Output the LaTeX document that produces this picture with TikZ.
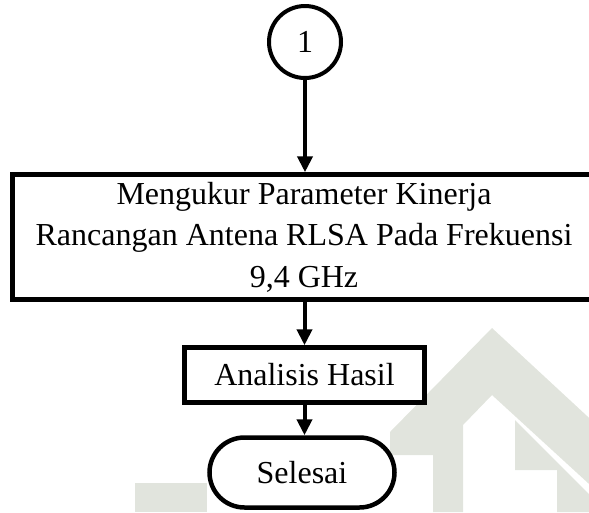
\documentclass[tikz,border=0pt]{standalone}
\usepackage{fontspec}
\setmainfont{Liberation Serif}
\usetikzlibrary{arrows.meta,shapes.misc}
\definecolor{wm}{RGB}{225,228,221}
\tikzset{
  flow/.style={draw=black, line width=4.5pt, inner sep=0pt, align=center,
    font=\fontsize{32}{41.5}\selectfont},
  conn/.style={draw=black, line width=4pt, -{Triangle[length=16pt,width=15pt]}},
  wmark/.style={fill=wm, draw=none}
}
\begin{document}
\begin{tikzpicture}[x=1pt,y=-1pt]
\useasboundingbox (0,0) rectangle (589,512);
% watermark
\fill[wmark] (390,432) -- (492,328) -- (600,428) -- (600,494) -- (492,395) -- (463,425) -- (463,512) -- (433,512) -- (433,455) -- (390,455) -- cycle;
\fill[wmark] (515,420) -- (600,505) -- (600,512) -- (557,512) -- (557,470) -- (515,470) -- cycle;
\fill[wmark] (135,483) rectangle (207,512);
% nodes
\node[flow, circle, line width=4pt, minimum size=72pt] (c1) at (305,42) {1};
\node[flow, rectangle, minimum width=583pt, minimum height=125pt] (ukur) at (304,237)
  {Mengukur Parameter Kinerja\\Rancangan Antena RLSA Pada Frekuensi\\9,4 GHz};
\node[flow, rectangle, minimum width=240pt, minimum height=55pt] (anal) at (304.5,375) {Analisis Hasil};
\node[flow, rounded rectangle, line width=4.5pt, minimum width=185pt, minimum height=70pt] (end) at (302,472.5) {Selesai};
% connectors
\draw[conn] (c1.south) -- (c1.south |- ukur.north);
\draw[conn] (anal.north |- ukur.south) -- (anal.north);
\draw[conn] (anal.south) -- (anal.south |- end.north);
\end{tikzpicture}
\end{document}
